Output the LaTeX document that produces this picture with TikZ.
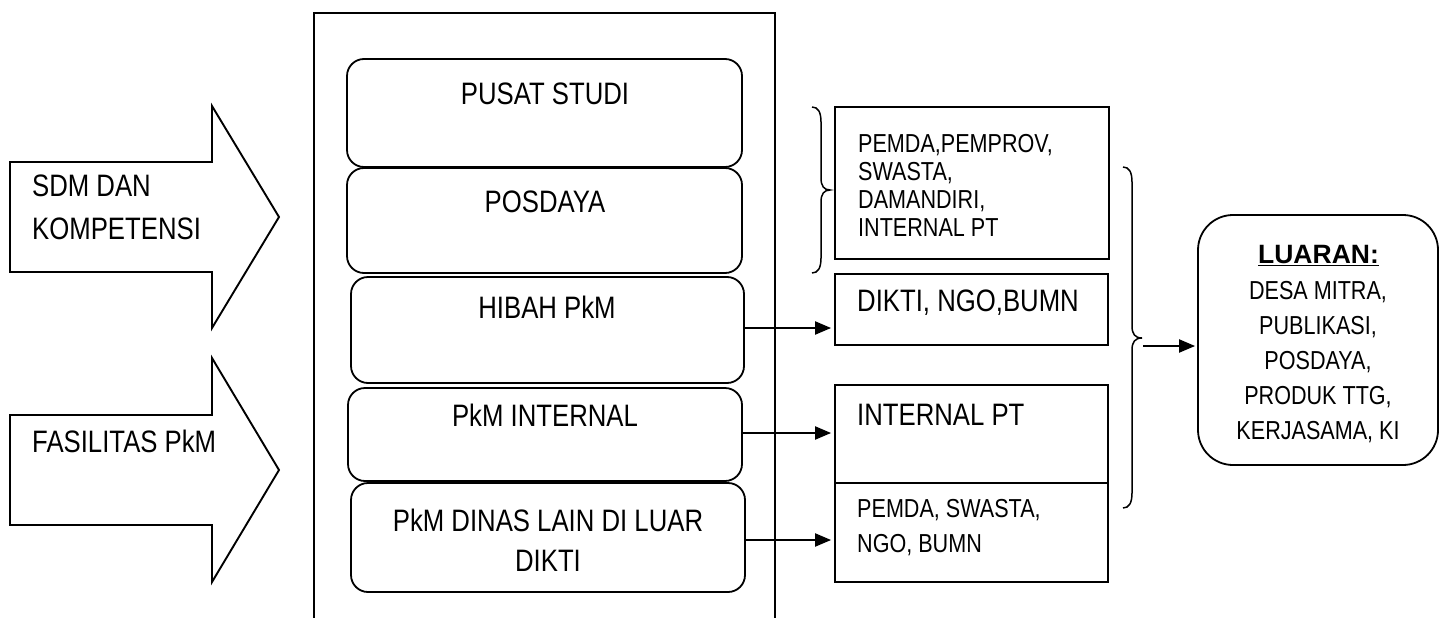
\documentclass[tikz,border=0pt]{standalone}
\usepackage{fontspec}
\setmainfont{Liberation Sans}
\newfontfamily\nar{Liberation Sans}[FakeStretch=0.83]
\usetikzlibrary{arrows.meta}
\begin{document}
\begin{tikzpicture}[x=1pt,y=-1pt,
  ibox/.style={draw, line width=1.8pt, rounded corners=17pt, inner sep=0pt},
  rbox/.style={draw, line width=1.8pt, inner sep=0pt},
  bigtxt/.style={inner sep=0pt, font=\nar\fontsize{31}{40}\selectfont},
  midtxt/.style={inner sep=0pt, font=\nar\fontsize{26}{28}\selectfont},
  arr/.style={line width=2pt, -{Triangle[length=16pt,width=13pt]}},
  brace/.style={line width=1.5pt},
  blockarrow/.style={draw, line width=1.9pt, line join=miter}
]
\useasboundingbox (0,0) rectangle (1445,618);

% outer frame (open at the bottom)
\draw[line width=2pt] (314,618) -- (314,13) -- (775,13) -- (775,618);

% block arrows on the left
\draw[blockarrow] (10,162) -- (212,162) -- (212,106) -- (279,217) -- (212,328) -- (212,272) -- (10,272) -- cycle;
\draw[blockarrow] (10,415) -- (212,415) -- (212,358) -- (279,470) -- (212,582) -- (212,525) -- (10,525) -- cycle;
\node[bigtxt, anchor=west, align=left, font=\nar\fontsize{31}{43}\selectfont] (sdm) at (32,207.5) {SDM DAN\\KOMPETENSI};
\node[bigtxt, anchor=west] (fas) at (32,441) {FASILITAS PkM};

% inner rounded boxes
\node[ibox, minimum width=395pt, minimum height=108pt] (pusat) at (544.5,113) {};
\node[ibox, minimum width=395pt, minimum height=105pt] (posdaya) at (544.5,220.5) {};
\node[ibox, minimum width=393pt, minimum height=106pt] (hibah) at (547.5,330) {};
\node[ibox, minimum width=394pt, minimum height=93pt] (internal) at (545,434.5) {};
\node[ibox, minimum width=394pt, minimum height=109pt] (dinas) at (548,537.5) {};

\node[bigtxt] (tpusat) at (545,94) {PUSAT STUDI};
\node[bigtxt] (tposdaya) at (545,202) {POSDAYA};
\node[bigtxt] (thibah) at (547,307) {HIBAH PkM};
\node[bigtxt] (tinternal) at (545,415) {PkM INTERNAL};
\node[bigtxt, align=center] (tdinas) at (548,540) {PkM DINAS LAIN DI LUAR\\DIKTI};

% right boxes
\node[rbox, minimum width=274pt, minimum height=152pt] (pemda) at (972,183) {};
\node[rbox, minimum width=273pt, minimum height=71pt] (dikti) at (971.5,309.5) {};
\node[rbox, minimum width=273pt, minimum height=98pt] (intpt) at (971.5,434) {};
\node[rbox, minimum width=273pt, minimum height=99pt] (pemdab) at (971.5,532.5) {};

\node[midtxt, anchor=west, align=left] (tpemda) at (858,185) {PEMDA,PEMPROV,\\SWASTA,\\DAMANDIRI,\\INTERNAL PT};
\node[bigtxt, anchor=west] (tdikti) at (857,303) {DIKTI, NGO,BUMN};
\node[bigtxt, anchor=west] (tintpt) at (857,415) {INTERNAL PT};
\node[midtxt, anchor=west, align=left, font=\nar\fontsize{26}{35}\selectfont] (tpemdab) at (857,528) {PEMDA, SWASTA,\\NGO, BUMN};

% luaran box
\node[draw, line width=1.8pt, rounded corners=35pt, minimum width=240pt, minimum height=250pt, inner sep=0pt] (luaran) at (1318,340) {};
\node[inner sep=0pt, font=\fontsize{26.5}{30}\selectfont\bfseries] (tluaran) at (1318.5,256) {\underline{LUARAN:}};
\node[inner sep=0pt, align=center, font=\nar\fontsize{26}{35}\selectfont] (tlist) at (1318,362) {DESA MITRA,\\PUBLIKASI,\\POSDAYA,\\PRODUK TTG,\\KERJASAMA, KI};

% braces
\draw[brace] (812,107) .. controls (818,107) and (821,112) .. (821,122) -- (821,178)
  .. controls (821,186) and (824,190) .. (830,190)
  .. controls (824,190) and (821,194) .. (821,202) -- (821,258)
  .. controls (821,268) and (818,273) .. (812,273);
\draw[brace] (1123,167) .. controls (1129,167) and (1132,172) .. (1132,182) -- (1132,326)
  .. controls (1132,334) and (1135,338) .. (1142,338)
  .. controls (1135,338) and (1132,342) .. (1132,350) -- (1132,493)
  .. controls (1132,503) and (1129,508) .. (1123,508);
\coordinate (btip) at (1143,346);

% connectors
\coordinate (ya) at (0,328);
\coordinate (yb) at (0,433);
\coordinate (yc) at (0,540);
\draw[arr, shorten >=3pt] (hibah.east |- ya) -- (dikti.west |- ya);
\draw[arr, shorten >=3pt] (internal.east |- yb) -- (intpt.west |- yb);
\draw[arr, shorten >=3pt] (dinas.east |- yc) -- (pemdab.west |- yc);
\draw[arr, shorten >=2pt] (btip) -- (luaran.west |- btip);
\end{tikzpicture}
\end{document}
